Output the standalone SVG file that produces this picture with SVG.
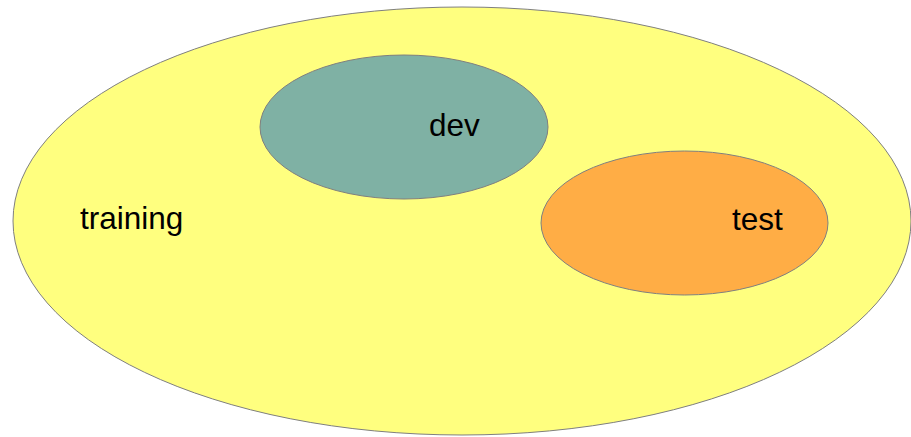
<svg xmlns="http://www.w3.org/2000/svg" width="911" height="437" viewBox="0 0 911 437">
<style>
.set{stroke:#7f7f7f;stroke-width:1}
.lbl{font-family:"Liberation Sans",Arial,sans-serif;font-size:31.5px;fill:#000}
</style>
<rect width="911" height="437" fill="#ffffff"/>
<g id="training">
<ellipse class="set" cx="462" cy="221" rx="449" ry="214" fill="#ffff7f"/>
<text class="lbl" x="80" y="229">training</text>
</g>
<g id="dev">
<ellipse class="set" cx="404" cy="127" rx="144" ry="72" fill="#7fb1a4"/>
<text class="lbl" x="429" y="136">dev</text>
</g>
<g id="test">
<ellipse class="set" cx="684.5" cy="223" rx="143.5" ry="72" fill="#ffad45"/>
<text class="lbl" x="732" y="230">test</text>
</g>
<g id="connectors"/>
</svg>
